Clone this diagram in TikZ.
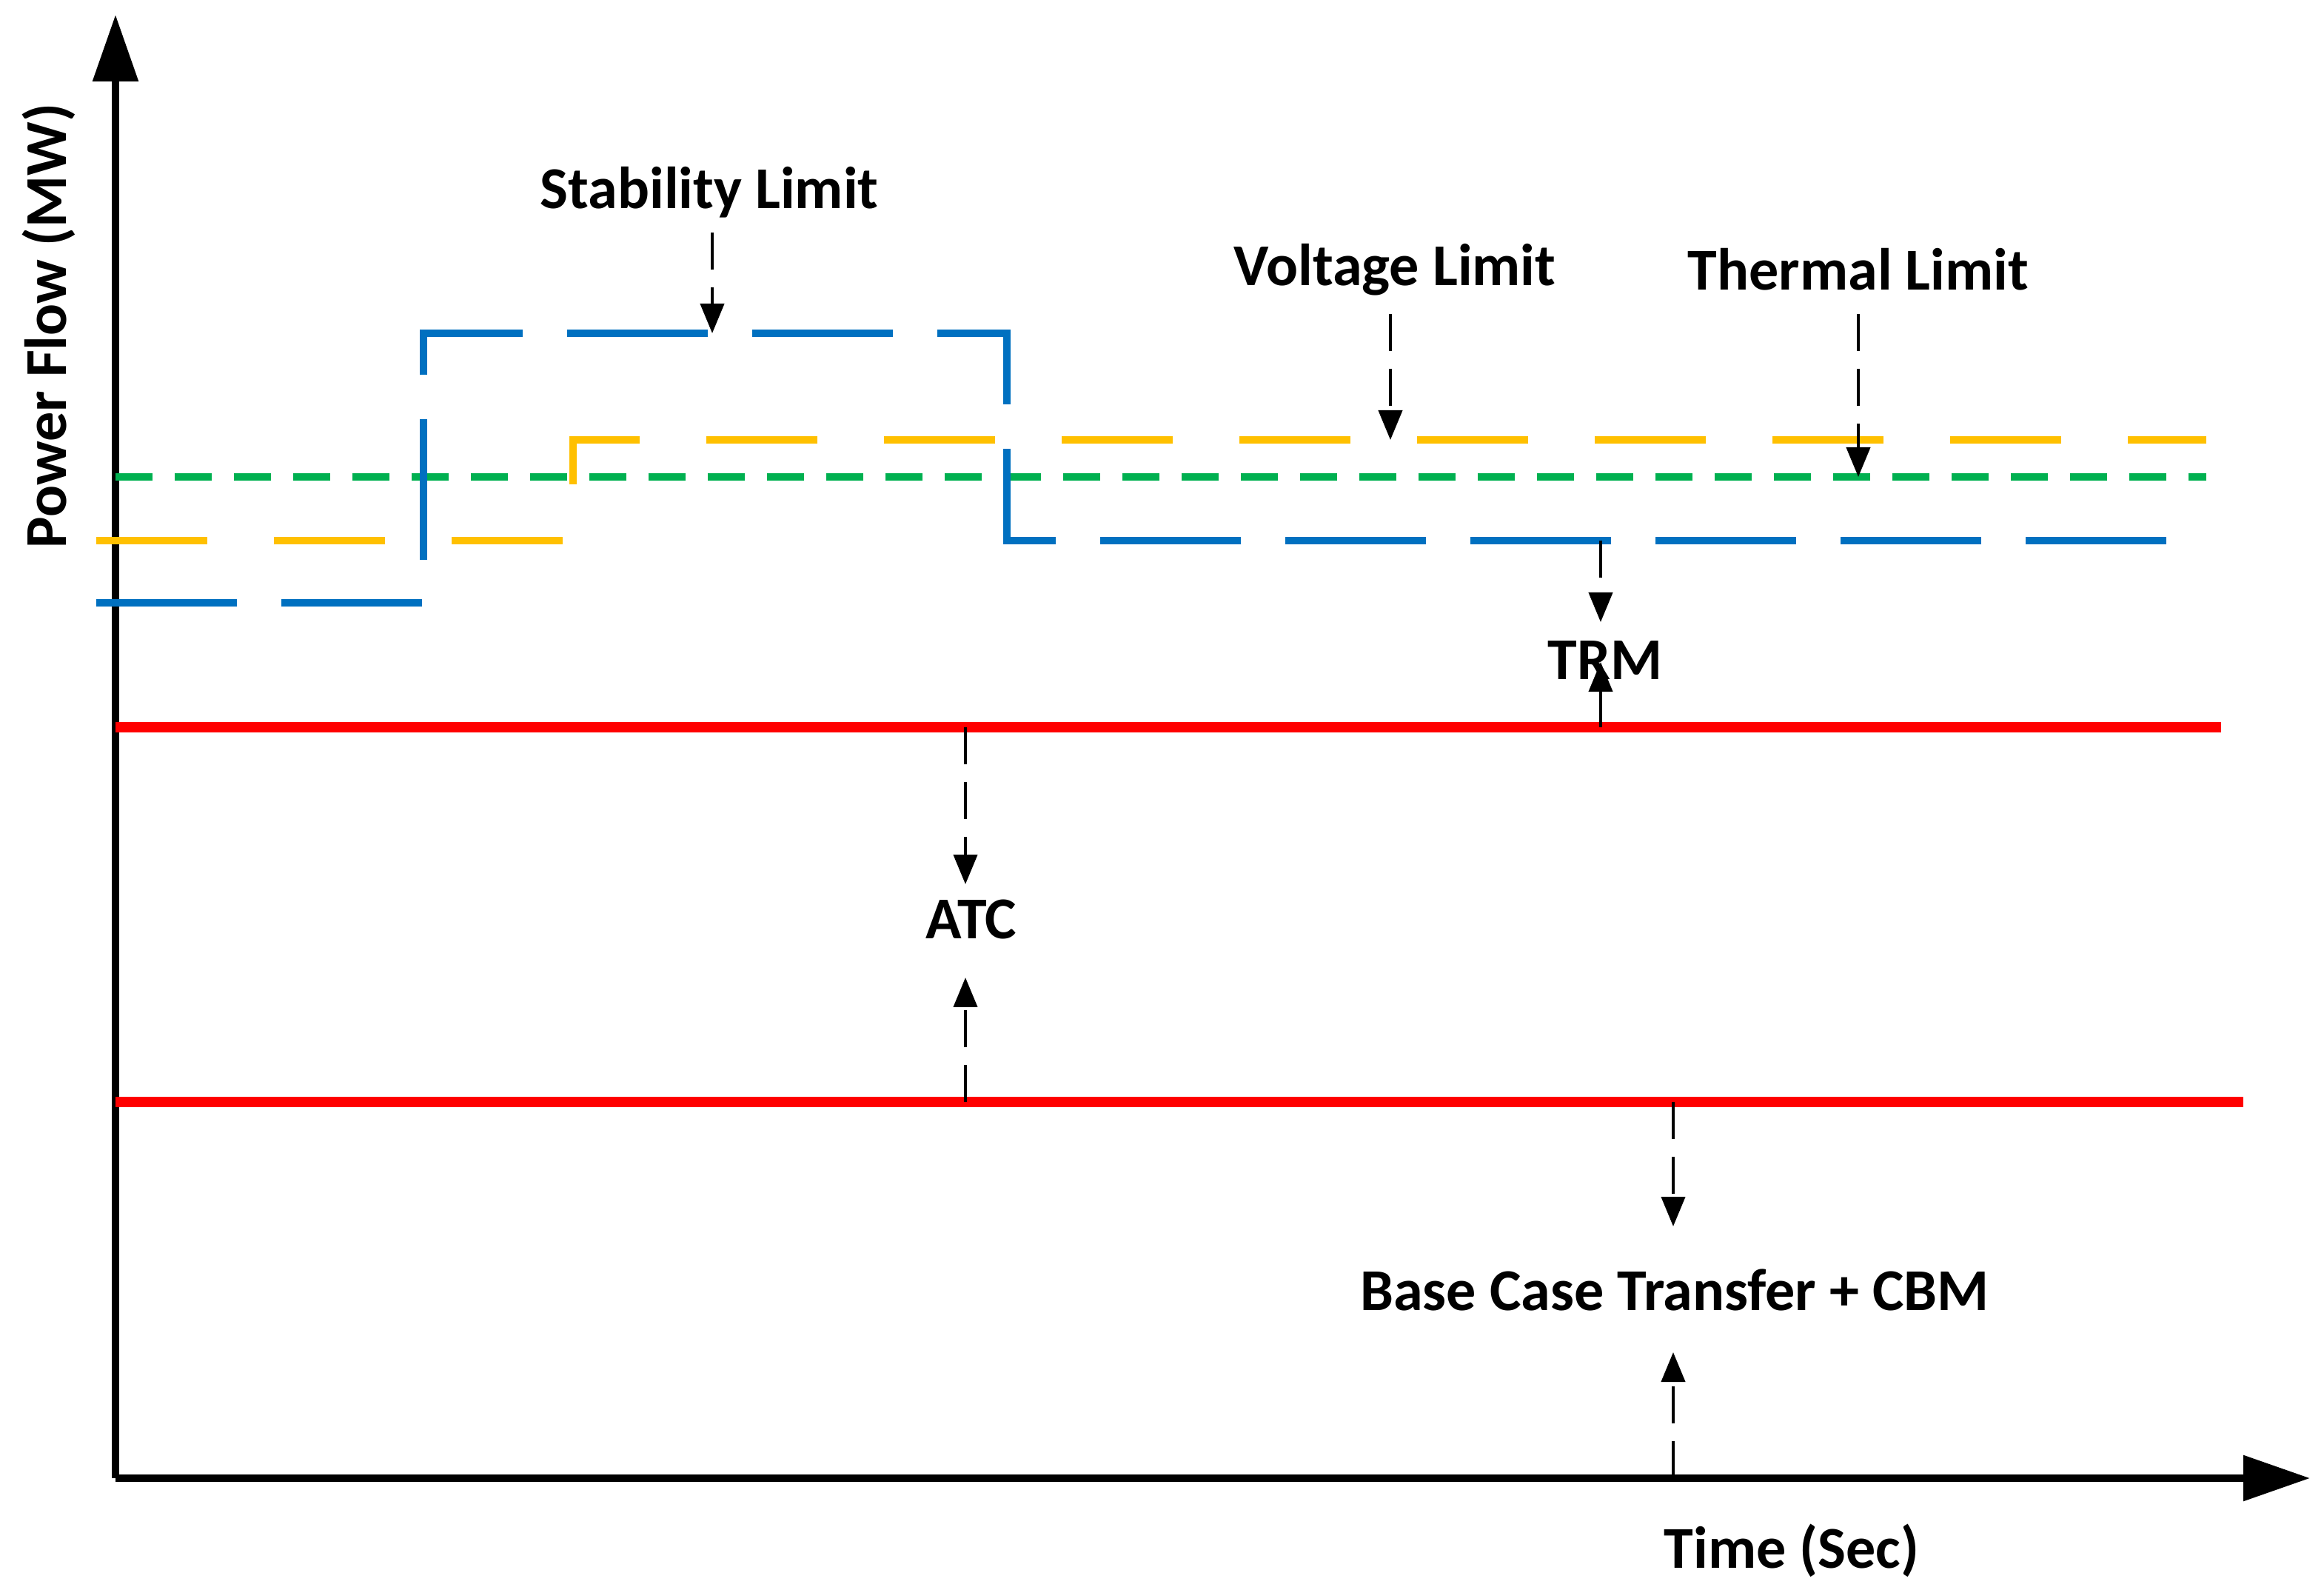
\documentclass[tikz,border=0pt]{standalone}
\usepackage{fontspec}
\setmainfont{Carlito}
\usetikzlibrary{arrows.meta}

\begin{document}
\begin{tikzpicture}[x=1cm,y=1cm, font=\fontsize{11.4}{13}\selectfont\bfseries,
        lab/.style = {inner sep=1pt},
        axis/.style = {line width=1.3pt, -{Triangle[length=0.45cm,width=0.3cm]}},
        limit/.style = {line width=2pt, red},
        stab/.style = {line width=1.4pt, draw={rgb,255:red,0;green,112;blue,192}, dash pattern=on 0.95cm off 0.3cm},
        volt/.style = {line width=1.4pt, draw={rgb,255:red,255;green,192;blue,0}, dash pattern=on 0.75cm off 0.45cm},
        therm/.style = {line width=1.4pt, draw={rgb,255:red,0;green,176;blue,80}, dash pattern=on 0.25cm off 0.15cm},
        pt/.style = {dash pattern=on 0.25cm off 0.12cm, line width=0.6pt, -{Triangle[length=0.2cm,width=0.16cm]}}]
        \useasboundingbox (0,0) rectangle (15.695,10.73);

        % axes
        \coordinate (o) at (0.78,0.75);
        \coordinate (ytop) at (0.78,10.63);
        \coordinate (xend) at (15.6,0.75);
        \draw[axis] (o) -- (ytop);
        \draw[axis] (o) -- (xend);
        \node[lab] (ylab) at (0.33,8.53) [rotate=90] {Power Flow (MW)};
        \node[lab] (xlab) at (12.1,0.26) {Time (Sec)};

        % red lines
        \coordinate (r1a) at (0.78,5.82);
        \coordinate (r1b) at (15.0,5.82);
        \coordinate (r2a) at (0.78,3.29);
        \coordinate (r2b) at (15.15,3.29);
        \draw[limit] (r1a) -- (r1b);
        \draw[limit] (r2a) -- (r2b);

        % limits
        \coordinate (g1) at (0.78,7.51);
        \coordinate (g2) at (14.9,7.51);
        \draw[therm] (g1) -- (g2);
        \coordinate (y1) at (0.65,7.08);
        \coordinate (y2) at (3.87,7.08);
        \coordinate (y3) at (3.87,7.76);
        \coordinate (y4) at (14.9,7.76);
        \draw[volt] (y1) -- (y2) -- (y3) -- (y4);
        \coordinate (b1) at (0.65,6.66);
        \coordinate (b2) at (2.86,6.66);
        \coordinate (b3) at (2.86,8.48);
        \coordinate (b4) at (6.8,8.48);
        \coordinate (b5) at (6.8,7.08);
        \coordinate (b6) at (14.9,7.08);
        \draw[stab] (b1) -- (b2) -- (b3) -- (b4) -- (b5) -- (b6);

        % labels
        \node[lab] (stl) at (4.79,9.43) {Stability Limit};
        \node[lab] (vol) at (9.42,8.91) {Voltage Limit};
        \node[lab] (thl) at (12.55,8.91) {Thermal Limit};
        \node[lab] (trm) at (10.84,6.27) {TRM};
        \node[lab] (atc) at (6.56,4.52) {ATC};
        \node[lab] (bct) at (11.31,2.02) {Base Case Transfer + CBM};

        % pointers
        \coordinate (s0) at (4.81,9.16);
        \coordinate (s1) at (4.81,8.48);
        \draw[pt] (s0) -- (s1);
        \coordinate (v0) at (9.39,8.61);
        \coordinate (v1) at (9.39,7.76);
        \draw[pt] (v0) -- (v1);
        \coordinate (t0) at (12.55,8.61);
        \coordinate (t1) at (12.55,7.51);
        \draw[pt] (t0) -- (t1);
        \coordinate (m0) at (10.81,7.08);
        \coordinate (m1) at (10.81,6.53);
        \coordinate (m2) at (10.81,5.82);
        \coordinate (m3) at (10.81,6.26);
        \draw[pt] (m0) -- (m1);
        \draw[pt] (m2) -- (m3);
        \coordinate (a0) at (6.52,5.82);
        \coordinate (a1) at (6.52,4.76);
        \coordinate (a2) at (6.52,3.29);
        \coordinate (a3) at (6.52,4.13);
        \draw[pt] (a0) -- (a1);
        \draw[pt] (a2) -- (a3);
        \coordinate (c0) at (11.3,3.29);
        \coordinate (c1) at (11.3,2.45);
        \coordinate (c2) at (11.3,0.75);
        \coordinate (c3) at (11.3,1.6);
        \draw[pt] (c0) -- (c1);
        \draw[pt] (c2) -- (c3);
    \end{tikzpicture}
\end{document}
